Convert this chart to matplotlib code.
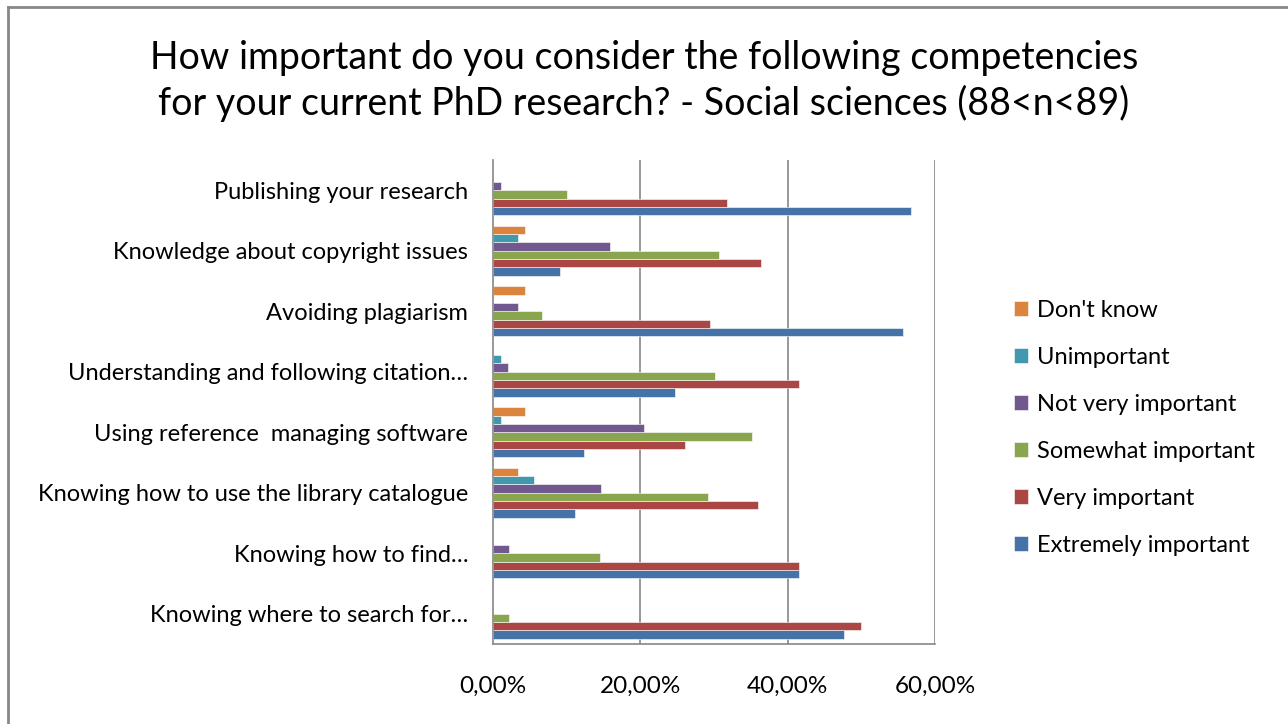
import matplotlib.pyplot as plt
import numpy as np
from matplotlib.lines import Line2D

plt.rcParams['font.family'] = ['Lato', 'DejaVu Sans']

# categories listed bottom to top, as Excel draws them
categories = [
    "Knowing where to search for…",
    "Knowing how to find…",
    "Knowing how to use the library catalogue",
    "Using reference  managing software",
    "Understanding and following citation…",
    "Avoiding plagiarism",
    "Knowledge about copyright issues",
    "Publishing your research",
]

extremely = [47.7, 41.6, 11.1, 12.4, 24.7, 55.7, 9.1, 56.8]
very = [50.0, 41.6, 36.0, 26.0, 41.6, 29.4, 36.4, 31.7]
somewhat = [2.2, 14.5, 29.2, 35.1, 30.2, 6.7, 30.7, 10.1]
not_very = [0, 2.2, 14.6, 20.5, 2.1, 3.4, 15.9, 1.1]
unimportant = [0, 0, 5.6, 1.1, 1.1, 0, 3.4, 0]
dont_know = [0, 0, 3.4, 4.4, 0, 4.4, 4.4, 0]

series_names = ["Extremely important", "Very important", "Somewhat important",
                "Not very important", "Unimportant", "Don't know"]
series_values = [extremely, very, somewhat, not_very, unimportant, dont_know]
colors = ["#4572A7", "#AA4643", "#89A54E", "#71588F", "#4198AF", "#DB843D"]

x_ticks = [0, 20, 40, 60]
x_labels = ["0,00%", "20,00%", "40,00%", "60,00%"]

title = ("How important do you consider the following competencies\n"
         "for your current PhD research? - Social sciences (88<n<89)")

fig = plt.figure(figsize=(12.88, 7.24), dpi=100)
ax = fig.add_axes([493 / 1288, 1 - 644 / 724, 442 / 1288, 484 / 724])

y = np.arange(len(categories))
h = 0.138
bars = []
for i, (name, vals, c) in enumerate(zip(series_names, series_values, colors)):
    b = ax.barh(y + (i - 2.5) * h, vals, height=h, color=c, label=name,
                edgecolor="white", linewidth=0.4)
    bars.append(b)

ax.set_xlim(0, 60)
ax.set_ylim(-0.5, len(categories) - 0.5)
ax.set_xticks(x_ticks)
ax.set_xticklabels(x_labels, fontsize=17.5)
ax.set_yticks(y)
ax.set_yticklabels(categories, fontsize=17)
ax.tick_params(axis="both", length=0)
ax.tick_params(axis="y", pad=18)
ax.tick_params(axis="x", pad=23)

for g in x_ticks[1:]:
    ax.axvline(g, color="#868686", linewidth=1.2, zorder=0)
for s in ["top", "right"]:
    ax.spines[s].set_visible(False)
for s in ["left", "bottom"]:
    ax.spines[s].set_color("#868686")
    ax.spines[s].set_linewidth(1.2)

fig.text(0.5, 1 - 81 / 724, title, ha="center", va="center", fontsize=27,
         linespacing=1.3)

handles = [bars[i] for i in range(5, -1, -1)]
labels = [series_names[i] for i in range(5, -1, -1)]
fig.legend(handles, labels, loc="center left",
           bbox_to_anchor=(993 / 1288, 1 - 428 / 724), frameon=False,
           fontsize=17, handlelength=0.6, handleheight=0.6,
           handletextpad=0.35, labelspacing=1.1)

# outer chart border
fig.add_artist(Line2D([8 / 1288, 1], [1 - 7 / 724, 1 - 7 / 724],
                      color="#888888", linewidth=2))
fig.add_artist(Line2D([8 / 1288, 8 / 1288], [0, 1 - 7 / 724],
                      color="#888888", linewidth=2))

fig.savefig("out.png", dpi=100)
